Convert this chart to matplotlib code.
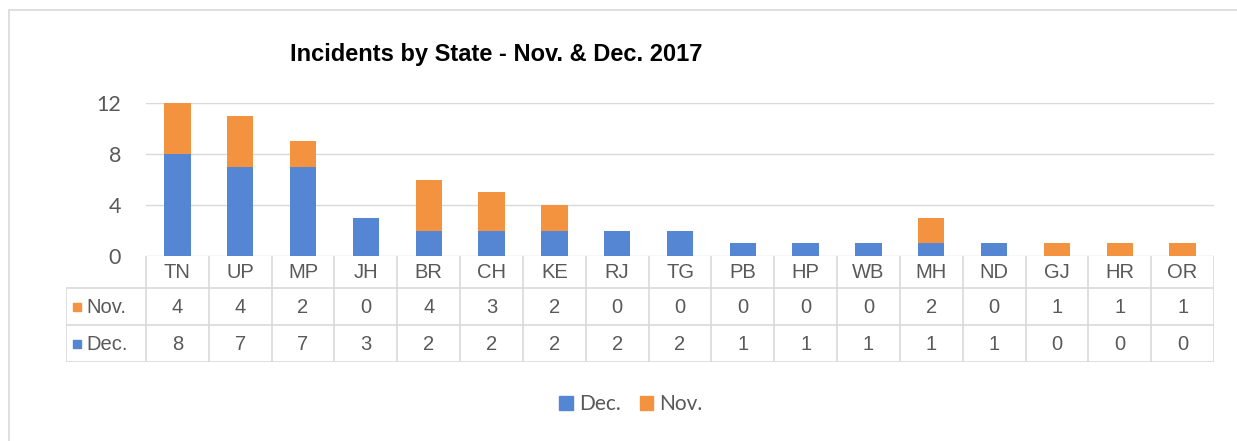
import matplotlib
matplotlib.use("Agg")
import matplotlib.pyplot as plt
import numpy as np
from matplotlib.patches import Rectangle, Patch

states = ["TN", "UP", "MP", "JH", "BR", "CH", "KE", "RJ", "TG",
          "PB", "HP", "WB", "MH", "ND", "GJ", "HR", "OR"]
nov = [4, 4, 2, 0, 4, 3, 2, 0, 0, 0, 0, 0, 2, 0, 1, 1, 1]
dec = [8, 7, 7, 3, 2, 2, 2, 2, 2, 1, 1, 1, 1, 1, 0, 0, 0]
yticks = [0, 4, 8, 12]

BLUE = "#5586d3"
ORANGE = "#f4933f"
GRID = "#d9d9d9"
TXT = "#595959"

W, H = 1237, 441
plt.rcParams["font.family"] = ["Liberation Sans", "DejaVu Sans"]

fig = plt.figure(figsize=(W / 100, H / 100), dpi=100)

# outer chart frame
fig.patches.append(Rectangle((9 / W, -0.05), 1.1, (H - 10) / H + 0.05,
                             transform=fig.transFigure, fill=False,
                             edgecolor=GRID, linewidth=1.2))

left, right, top, base = 146, 1214, 103, 256
ax = fig.add_axes([left / W, (H - base) / H, (right - left) / W, (base - top) / H])
x = np.arange(len(states))
w = 0.42
ax.bar(x, dec, w, color=BLUE, zorder=3)
ax.bar(x, nov, w, bottom=dec, color=ORANGE, zorder=3)
ax.set_xlim(-0.5, len(states) - 0.5)
ax.set_ylim(0, 12)
ax.set_yticks(yticks)
ax.set_xticks([])
ax.tick_params(axis="y", length=0, pad=18, labelsize=15.5, labelcolor=TXT)
for lab in ax.get_yticklabels():
    lab.set_family("Lato")
ax.grid(axis="y", color=GRID, linewidth=1, zorder=0)
for s in ax.spines.values():
    s.set_visible(False)

fig.text(496 / W, 1 - 55 / H, "Incidents by State - Nov. & Dec. 2017",
         ha="center", va="center", fontsize=17, fontweight="bold", color="black")

# data table under the axis
t_left, r1, r2, r3 = 66, 288, 325, 362
unit = (right - left) / len(states)
tax = fig.add_axes([t_left / W, (H - r3) / H, (right - t_left) / W, (r3 - base) / H])
x0 = -0.5 - (left - t_left) / unit
tax.set_xlim(x0, len(states) - 0.5)
tax.set_ylim(r3, base)
tax.axis("off")
lk = dict(color=GRID, linewidth=1.2, solid_capstyle="butt")
for yy in (r1, r2, r3):
    tax.plot([x0, len(states) - 0.5], [yy, yy], **lk)
tax.plot([x0, x0], [r1, r3], **lk)
for i in range(len(states) + 1):
    tax.plot([i - 0.5, i - 0.5], [base, r3], **lk)

fs = 14.5
for i, s in enumerate(states):
    tax.text(i, (base + r1) / 2 + 1, s, ha="center", va="center", fontsize=fs, color=TXT)
    tax.text(i, (r1 + r2) / 2 + 1, str(nov[i]), ha="center", va="center", fontsize=fs, color=TXT)
    tax.text(i, (r2 + r3) / 2 + 1, str(dec[i]), ha="center", va="center", fontsize=fs, color=TXT)

for label, col, yc in (("Nov.", ORANGE, (r1 + r2) / 2), ("Dec.", BLUE, (r2 + r3) / 2)):
    tax.add_patch(Rectangle((x0 + 7 / unit, yc - 4), 8 / unit, 8, color=col))
    tax.text(x0 + 20 / unit, yc + 1, label, ha="left", va="center", fontsize=fs, color=TXT)

handles = [Patch(color=BLUE, label="Dec."), Patch(color=ORANGE, label="Nov.")]
fig.legend(handles=handles, loc="center", bbox_to_anchor=(631 / W, 1 - 404 / H),
           ncol=2, frameon=False, handlelength=0.65, handleheight=0.65,
           handletextpad=0.3, columnspacing=0.9,
           prop={"family": "Lato", "size": 15}, labelcolor=TXT)

fig.savefig("out.png", dpi=100)
